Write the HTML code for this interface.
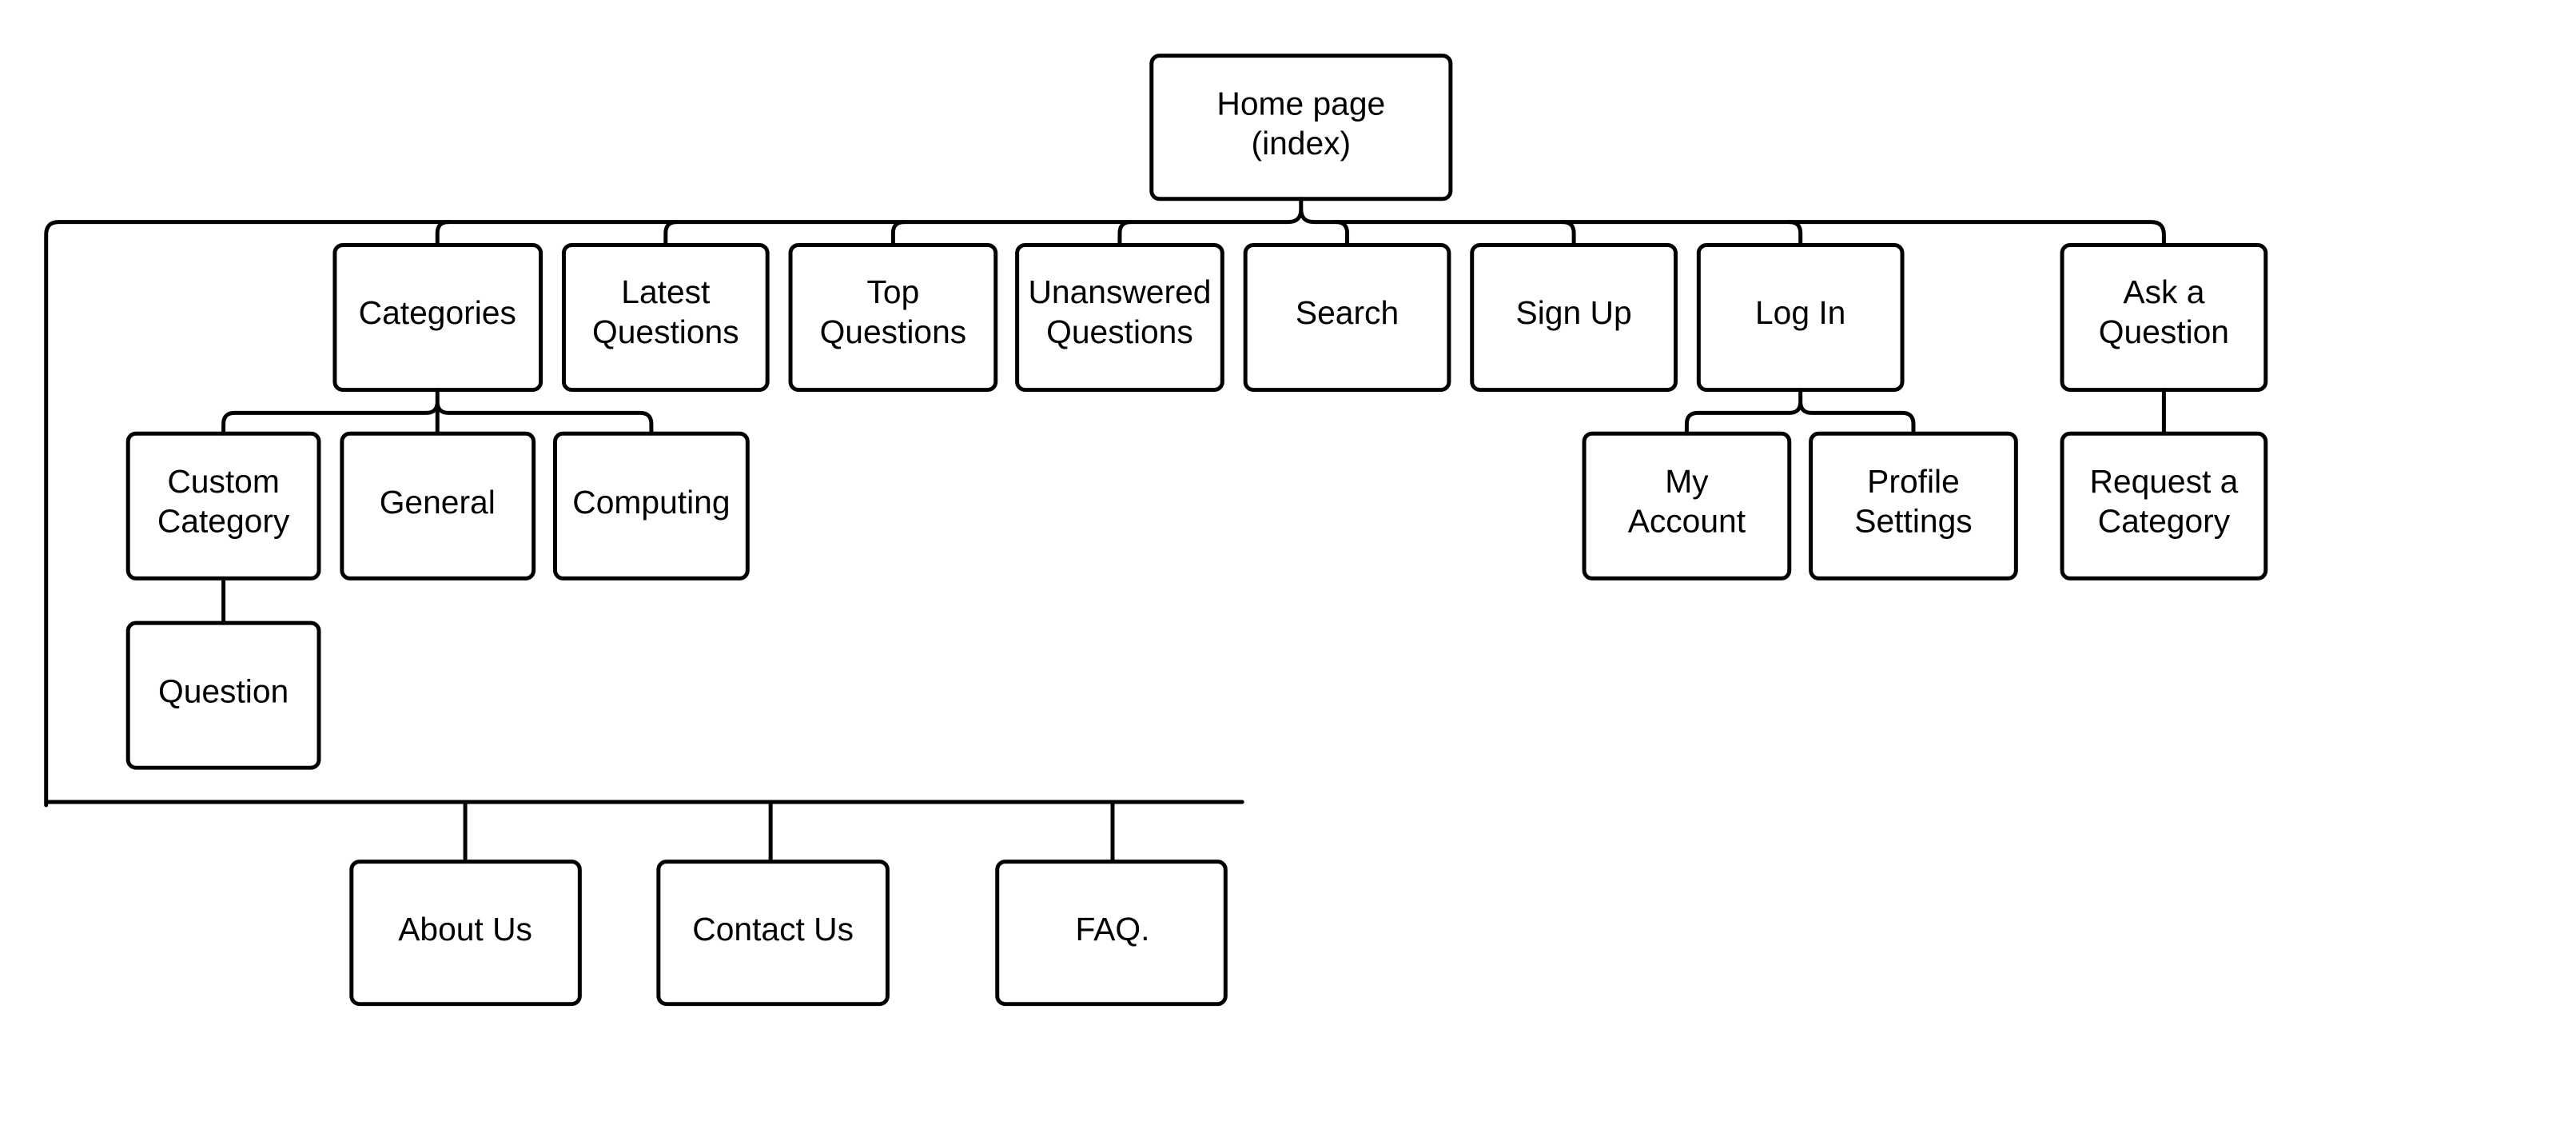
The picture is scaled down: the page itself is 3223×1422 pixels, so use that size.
<!DOCTYPE html>
<html><head><meta charset="utf-8"><style>
html,body{margin:0;padding:0;background:#fff;}
svg{display:block;}
text{font-family:"Liberation Sans",sans-serif;font-size:41px;fill:#000;text-anchor:middle;}
</style></head><body>
<svg width="3223" height="1422" viewBox="0 0 3223 1422" xmlns="http://www.w3.org/2000/svg">
<g transform="scale(0.995)">
<g fill="none" stroke="#000" stroke-width="5" stroke-linejoin="round" stroke-linecap="round">
<path d="M58,1012 L58,295 Q58,279 74,279 L1620,279 Q1636,279 1636,263 L1636,250 M1636,263 Q1636,279 1652,279 L2705,279 Q2721,279 2721,295 L2721,308"/>
<path d="M550,308 L550,293 Q550,279 564,279"/>
<path d="M837,308 L837,293 Q837,279 851,279"/>
<path d="M1123,308 L1123,293 Q1123,279 1137,279"/>
<path d="M1408,308 L1408,293 Q1408,279 1422,279"/>
<path d="M1694,308 L1694,293 Q1694,279 1680,279"/>
<path d="M1979,308 L1979,293 Q1979,279 1965,279"/>
<path d="M2264,308 L2264,293 Q2264,279 2250,279"/>
<path d="M281,545 L281,533 Q281,519 295,519 L536,519 Q550,519 550,505 L550,490 M550,505 Q550,519 564,519 L805,519 Q819,519 819,533 L819,545 M550,505 L550,545"/>
<path d="M281,727 L281,783"/>
<path d="M2121,545 L2121,533 Q2121,519 2135,519 L2250,519 Q2264,519 2264,505 L2264,490 M2264,505 Q2264,519 2278,519 L2392,519 Q2406,519 2406,533 L2406,545"/>
<path d="M2721,490 L2721,545"/>
<path d="M58,1008 L1562,1008"/>
<path d="M585,1008 L585,1083 M969,1008 L969,1083 M1399,1008 L1399,1083"/>
<rect x="1448" y="70" width="376" height="180" rx="10"/>
<rect x="421" y="308" width="259" height="182" rx="10"/>
<rect x="709" y="308" width="256" height="182" rx="10"/>
<rect x="994" y="308" width="258" height="182" rx="10"/>
<rect x="1279" y="308" width="258" height="182" rx="10"/>
<rect x="1566" y="308" width="256" height="182" rx="10"/>
<rect x="1851" y="308" width="256" height="182" rx="10"/>
<rect x="2136" y="308" width="256" height="182" rx="10"/>
<rect x="2593" y="308" width="256" height="182" rx="10"/>
<rect x="161" y="545" width="240" height="182" rx="10"/>
<rect x="430" y="545" width="241" height="182" rx="10"/>
<rect x="698" y="545" width="242" height="182" rx="10"/>
<rect x="1992" y="545" width="258" height="182" rx="10"/>
<rect x="2277" y="545" width="258" height="182" rx="10"/>
<rect x="2593" y="545" width="256" height="182" rx="10"/>
<rect x="161" y="783" width="240" height="182" rx="10"/>
<rect x="442" y="1083" width="287" height="179" rx="10"/>
<rect x="828" y="1083" width="288" height="179" rx="10"/>
<rect x="1254" y="1083" width="287" height="179" rx="10"/>
</g>
<text x="1636" y="144">Home page</text><text x="1636" y="194">(index)</text>
<text x="550" y="407">Categories</text>
<text x="837" y="381">Latest</text><text x="837" y="431">Questions</text>
<text x="1123" y="381">Top</text><text x="1123" y="431">Questions</text>
<text x="1408" y="381">Unanswered</text><text x="1408" y="431">Questions</text>
<text x="1694" y="407">Search</text>
<text x="1979" y="407">Sign Up</text>
<text x="2264" y="407">Log In</text>
<text x="2721" y="381">Ask a</text><text x="2721" y="431">Question</text>
<text x="281" y="619">Custom</text><text x="281" y="669">Category</text>
<text x="550" y="645">General</text>
<text x="819" y="645">Computing</text>
<text x="2121" y="619">My</text><text x="2121" y="669">Account</text>
<text x="2406" y="619">Profile</text><text x="2406" y="669">Settings</text>
<text x="2721" y="619">Request a</text><text x="2721" y="669">Category</text>
<text x="281" y="883">Question</text>
<text x="585" y="1182">About Us</text>
<text x="972" y="1182">Contact Us</text>
<text x="1399" y="1182">FAQ.</text>
</g>
</svg>
</body></html>
